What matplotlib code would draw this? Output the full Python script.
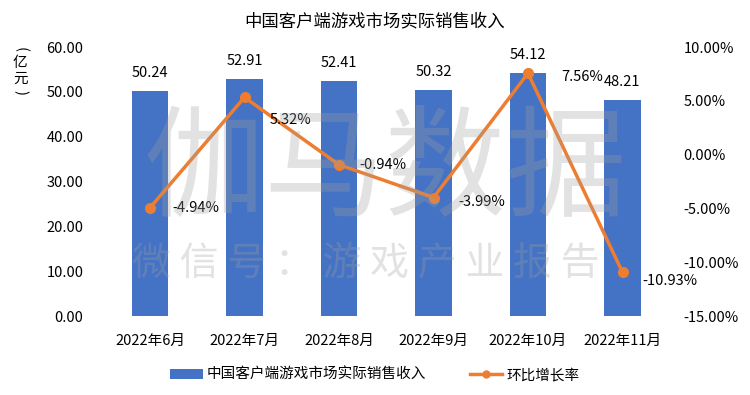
import matplotlib
matplotlib.use("Agg")
import matplotlib.pyplot as plt
from matplotlib.ticker import FuncFormatter
from matplotlib.lines import Line2D
from matplotlib.patches import Patch

plt.rcParams['font.family'] = ['Noto Sans CJK SC', 'DejaVu Sans']

months = ['2022年6月', '2022年7月', '2022年8月', '2022年9月', '2022年10月', '2022年11月']
revenue = [50.24, 52.91, 52.41, 50.32, 54.12, 48.21]
growth = [-4.94, 5.32, -0.94, -3.99, 7.56, -10.93]

title = '中国客户端游戏市场实际销售收入'
bar_name = '中国客户端游戏市场实际销售收入'
line_name = '环比增长率'

blue = '#4472C4'
orange = '#ED7D31'

fig = plt.figure(figsize=(7.5, 3.95), dpi=100)
ax = fig.add_axes([0.137, 0.2, 0.756, 0.681])
ax2 = ax.twinx()

x = list(range(len(months)))
ax.bar(x, revenue, width=0.39, color=blue, zorder=2)
ax.set_ylim(0, 60)
ax.set_yticks([0, 10, 20, 30, 40, 50, 60])
ax.yaxis.set_major_formatter(FuncFormatter(lambda v, p: f'{v:.2f}'))
ax.set_xlim(-0.5, len(months) - 0.5)
ax.set_xticks(x)
ax.set_xticklabels(months)

ax2.plot(x, growth, color=orange, lw=2.5, marker='o', ms=7, zorder=3)
ax2.set_ylim(-15, 10)
ax2.set_yticks([-15, -10, -5, 0, 5, 10])
ax2.yaxis.set_major_formatter(FuncFormatter(lambda v, p: f'{v:.2f}%'))

for a in (ax, ax2):
    for s in a.spines.values():
        s.set_visible(False)
    a.tick_params(length=0, labelsize=10.5, colors='black')
ax.tick_params(axis='y', pad=14)
ax2.tick_params(axis='y', pad=10)
ax.tick_params(axis='x', pad=13)

for xi, v in zip(x, revenue):
    ax.annotate(f'{v:.2f}', (xi, v), xytext=(0, 8), textcoords='offset points',
                ha='center', va='bottom', fontsize=10.5)

# label offsets in points (right of each point)
offsets = [(16, 0), (18, -16), (15, 0), (18, -3), (24, -3), (14, -6)]
for xi, g, off in zip(x, growth, offsets):
    ax2.annotate(f'{g:.2f}%', (xi, g), xytext=off, textcoords='offset points',
                 ha='left', va='center', fontsize=10.5, zorder=5)

# watermark
fig.text(0.513, 0.562, '伽马数据', fontsize=87, color='#a0a0a0', alpha=0.3,
         fontweight='light', ha='center', va='center', zorder=10)
fig.text(0.488, 0.334, '微 信 号 ： 游 戏 产 业 报 告', fontsize=28, color='#a0a0a0',
         alpha=0.3, fontweight='light', ha='center', va='center', zorder=10)

fig.text(0.5, 0.945, title, fontsize=12.5, ha='center', va='center')

# vertical unit label （亿元）
fig.text(0.027, 0.875, '(', fontsize=10.5, rotation=-90, ha='center', va='center')
fig.text(0.027, 0.84, '亿', fontsize=10.5, ha='center', va='center')
fig.text(0.027, 0.80, '元', fontsize=10.5, ha='center', va='center')
fig.text(0.027, 0.765, ')', fontsize=10.5, rotation=-90, ha='center', va='center')

handles = [Patch(facecolor=blue), Line2D([0], [0], color=orange, lw=2.5, marker='o', ms=5)]
fig.legend(handles, [bar_name, line_name], loc='center', bbox_to_anchor=(0.5, 0.05),
           ncol=2, frameon=False, fontsize=10.5, handlelength=2.2, handleheight=0.6,
           columnspacing=3, handletextpad=0.3)

fig.savefig('out.png', dpi=100)
